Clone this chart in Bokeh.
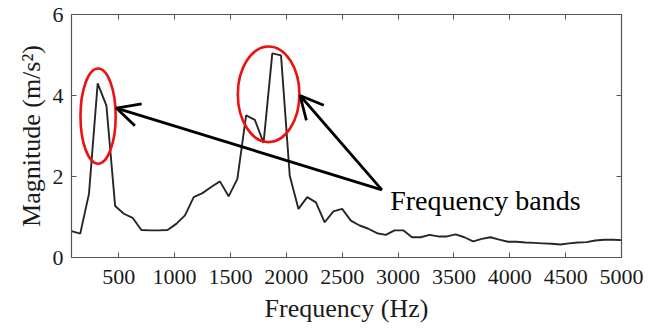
from bokeh.plotting import figure
from bokeh.models import LinearAxis, Arrow, OpenHead, Label, FixedTicker, Range1d
from bokeh.embed import file_html
from bokeh.resources import INLINE

# Frequency bins (Hz) and magnitudes (m/s^2)
freq_step = 78.125
freq = [freq_step * k for k in range(1, 65)]
magnitude = [
    0.65, 0.59, 1.57, 4.30, 3.75, 1.27, 1.08, 0.98, 0.68, 0.67,
    0.67, 0.68, 0.83, 1.04, 1.49, 1.59, 1.74, 1.88, 1.51, 1.94,
    3.51, 3.40, 2.83, 5.04, 4.99, 2.02, 1.20, 1.49, 1.36, 0.87,
    1.14, 1.20, 0.91, 0.79, 0.71, 0.60, 0.56, 0.67, 0.67, 0.50,
    0.50, 0.56, 0.52, 0.52, 0.57, 0.50, 0.40, 0.46, 0.50, 0.44,
    0.39, 0.39, 0.37, 0.36, 0.35, 0.34, 0.32, 0.35, 0.37, 0.38,
    0.42, 0.44, 0.44, 0.43,
]
x_ticks = [500, 1000, 1500, 2000, 2500, 3000, 3500, 4000, 4500, 5000]
y_ticks = [0, 2, 4, 6]

# Highlighted bands (ellipses) and annotation
band_x = [316, 1842]
band_y = [3.49, 4.03]
band_w = [315, 551]
band_h = [2.35, 2.36]
label_text = "Frequency bands"
arrow_tail = (2856, 1.67)
arrow_heads = [(479, 3.69), (2123, 4.00)]
label_pos = (2930, 1.40)

FONT = "Liberation Serif"

p = figure(
    frame_width=550, frame_height=243,
    x_range=Range1d(78.125, 5000), y_range=Range1d(0, 6),
    output_backend="svg", toolbar_location=None,
    min_border_left=71, min_border_right=30, min_border_top=14, min_border_bottom=68,
)
p.xgrid.visible = False
p.ygrid.visible = False
p.background_fill_color = "white"
p.border_fill_color = "white"
p.outline_line_color = "#555555"
p.outline_line_width = 1.2

p.line(freq, magnitude, line_color="#262626", line_width=1.9)

p.ellipse(x=band_x, y=band_y, width=band_w, height=band_h,
          fill_color=None, line_color="#ee1111", line_width=2.6)

for hx, hy in arrow_heads:
    p.add_layout(Arrow(
        end=OpenHead(size=23, line_width=2.8, line_color="black"),
        x_start=arrow_tail[0], y_start=arrow_tail[1], x_end=hx, y_end=hy,
        line_width=2.8, line_color="black"))

p.add_layout(Label(x=label_pos[0], y=label_pos[1], text=label_text,
                   text_font=FONT, text_font_size="28px", text_color="black",
                   text_baseline="alphabetic"))

def style_axis(ax, show_labels):
    ax.axis_line_color = None
    ax.major_tick_in = 5
    ax.major_tick_out = 0
    ax.minor_tick_line_color = None
    ax.major_tick_line_color = "#555555"
    ax.major_label_text_font = FONT
    ax.major_label_text_font_size = "22px"
    ax.major_label_text_color = "#1a1a1a" if show_labels else None
    ax.axis_label_text_font = FONT
    ax.axis_label_text_font_size = "26px"
    ax.axis_label_text_font_style = "normal"
    ax.axis_label_text_color = "#1a1a1a"

p.xaxis.ticker = FixedTicker(ticks=x_ticks)
p.yaxis.ticker = FixedTicker(ticks=y_ticks)
p.xaxis.axis_label = "Frequency (Hz)"
p.yaxis.axis_label = "Magnitude (m/s²)"
style_axis(p.xaxis[0], True)
style_axis(p.yaxis[0], True)
p.xaxis.major_label_standoff = 12
p.xaxis.axis_label_standoff = 7
p.yaxis.major_label_standoff = 8
p.yaxis.axis_label_standoff = 4

top = LinearAxis(ticker=FixedTicker(ticks=x_ticks))
right = LinearAxis(ticker=FixedTicker(ticks=y_ticks))
for ax in (top, right):
    style_axis(ax, False)
    ax.major_label_text_font_size = "0px"
    ax.major_label_standoff = 0
p.add_layout(top, "above")
p.add_layout(right, "right")

open("out.html", "w").write(file_html(p, INLINE))
